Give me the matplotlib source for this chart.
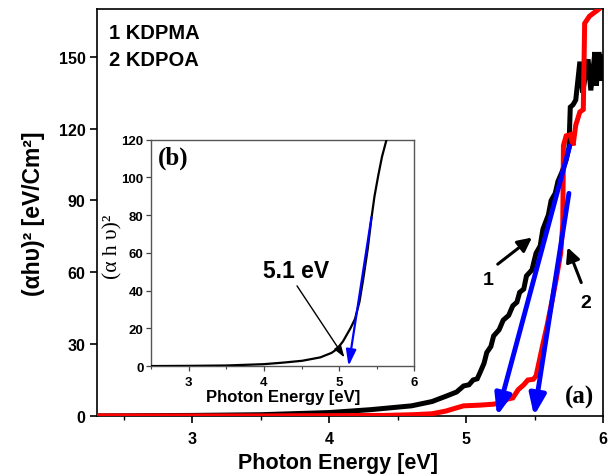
import matplotlib
matplotlib.use("Agg")
import matplotlib.pyplot as plt
from matplotlib.ticker import MultipleLocator

# ---------------- data ----------------
# curve 1 : KDPMA (black)
kdpma_x = [2.30, 3.00, 3.50, 4.00, 4.30, 4.60, 4.75, 4.86, 4.93, 4.98, 5.02, 5.05, 5.08, 5.10,
           5.13, 5.15, 5.18, 5.20, 5.24, 5.27, 5.31, 5.34, 5.37, 5.39, 5.42, 5.44, 5.48, 5.51,
           5.54, 5.56, 5.60, 5.62, 5.65, 5.67, 5.70, 5.73, 5.75, 5.76, 5.78, 5.80, 5.83, 5.85,
           5.89, 5.91, 5.94, 5.95, 5.97, 5.99, 6.00]
kdpma_y = [0.0, 0.2, 0.5, 1.4, 2.6, 4.2, 6.0, 8.4, 10.0, 12.5, 13.0, 15.0, 15.5, 18.0,
           22.0, 26.5, 29.0, 33.4, 36.0, 40.0, 42.0, 46.0, 47.5, 51.6, 53.0, 58.5, 61.0, 68.0,
           71.0, 78.0, 84.0, 90.0, 93.0, 98.0, 102.0, 107.0, 112.0, 129.0, 130.0, 132.0, 148.0, 135.0,
           149.0, 136.0, 152.0, 138.0, 152.0, 140.0, 150.0]

# curve 2 : KDPOA (red)
kdpoa_x = [2.30, 3.50, 4.00, 4.40, 4.61, 4.75, 4.85, 4.92, 4.98, 5.10, 5.20, 5.26, 5.30, 5.34,
           5.38, 5.42, 5.45, 5.49, 5.51, 5.53, 5.56, 5.59, 5.63, 5.66, 5.69, 5.705, 5.71, 5.73,
           5.76, 5.78, 5.80, 5.83, 5.855, 5.865, 5.90, 5.97, 6.00]
kdpoa_y = [0.0, 0.0, 0.1, 0.2, 0.5, 0.9, 2.0, 3.2, 4.2, 4.5, 4.9, 5.5, 7.0, 7.5,
           11.0, 13.0, 15.0, 15.3, 16.7, 22.0, 30.0, 37.6, 49.0, 58.0, 68.0, 80.0, 113.0, 117.0,
           117.5, 113.0, 121.5, 127.0, 128.0, 164.0, 167.0, 170.0, 172.0]

# tangent lines (blue arrows) of the main plot: (x_start, y_start, x_end, y_end)
tangent1 = [5.756, 112.8, 5.225, 0.0]
tangent2 = [5.750, 93.0, 5.495, 0.0]

# inset (b) curve
inset_x = [2.50, 3.00, 3.50, 4.00, 4.25, 4.51, 4.75, 4.90, 4.97, 5.05, 5.10, 5.15, 5.21,
           5.27, 5.32, 5.38, 5.43, 5.47, 5.52, 5.57, 5.63]
inset_y = [0.0, 0.1, 0.3, 1.0, 1.8, 2.8, 4.6, 7.0, 9.0, 13.0, 16.5, 20.0, 24.9,
           34.0, 46.0, 62.0, 78.5, 90.0, 101.0, 111.0, 120.0]
inset_tangent = [5.43, 79.0, 5.125, 0.0]

main_xticks = [3, 4, 5, 6]
main_yticks = [0, 30, 60, 90, 120, 150]
inset_xticks = [3, 4, 5, 6]
inset_yticks = [0, 20, 40, 60, 80, 100, 120]

SANS = "Liberation Sans"
SERIF = "Liberation Serif"

# ---------------- figure ----------------
fig = plt.figure(figsize=(6.08, 4.77), dpi=100)
fig.patch.set_facecolor("white")
ax = fig.add_axes([0.159, 0.126, 0.833, 0.853])

ax.plot(kdpma_x, kdpma_y, color="black", lw=3.6, solid_joinstyle="miter", zorder=3)
ax.plot(kdpoa_x, kdpoa_y, color="#ff0000", lw=3.6, solid_joinstyle="miter", zorder=4)

for t in (tangent1, tangent2):
    ax.annotate("", xy=(t[2], t[3]), xytext=(t[0], t[1]),
                arrowprops=dict(arrowstyle="-|>,head_length=0.9,head_width=0.35",
                                color="#0000ff", lw=3.5, shrinkA=0, shrinkB=0,
                                mutation_scale=14), zorder=6)

# labels 1 and 2 with arrows
ax.annotate("", xy=(5.48, 74.5), xytext=(5.23, 63.4),
            arrowprops=dict(arrowstyle="-|>,head_length=0.6,head_width=0.3",
                            color="black", lw=2.2, shrinkA=0, shrinkB=0,
                            mutation_scale=14), zorder=7)
ax.annotate("", xy=(5.74, 70.4), xytext=(5.84, 55.7),
            arrowprops=dict(arrowstyle="-|>,head_length=0.6,head_width=0.3",
                            color="black", lw=2.2, shrinkA=0, shrinkB=0,
                            mutation_scale=14), zorder=7)
ax.text(5.16, 57.0, "1", fontsize=14, fontweight="bold", family=SANS,
        ha="center", va="center")
ax.text(5.87, 47.4, "2", fontsize=14, fontweight="bold", family=SANS,
        ha="center", va="center")

ax.set_xlim(2.3, 6.0)
ax.set_ylim(0, 170)
ax.set_xticks(main_xticks)
ax.set_yticks(main_yticks)
ax.xaxis.set_minor_locator(MultipleLocator(0.5))
ax.tick_params(axis="both", which="major", direction="out", length=5, width=1.2,
               labelsize=11.5, pad=3)
ax.tick_params(axis="x", which="minor", direction="out", length=3, width=1.0)
ax.tick_params(axis="x", which="major", pad=6)
for lab in ax.get_xticklabels() + ax.get_yticklabels():
    lab.set_fontweight("bold")
    lab.set_family(SANS)
for s in ax.spines.values():
    s.set_linewidth(1.2)

ax.set_xlabel("Photon Energy [eV]", fontsize=15.5, fontweight="bold", family=SANS,
              va="center")
ax.xaxis.set_label_coords(0.477, -0.114)
ax.set_ylabel("(αhυ)² [eV/Cm²]", fontsize=16.5, fontweight="bold",
              family=SANS, va="center")
ax.yaxis.set_label_coords(-0.125, 0.5)

ax.text(0.025, 0.943, "1 KDPMA", transform=ax.transAxes, fontsize=14.5,
        fontweight="bold", family=SANS, ha="left", va="center")
ax.text(0.025, 0.877, "2 KDPOA", transform=ax.transAxes, fontsize=14.5,
        fontweight="bold", family=SANS, ha="left", va="center")
ax.text(0.953, 0.048, "(a)", transform=ax.transAxes, fontsize=18,
        fontweight="bold", family=SERIF, ha="center", va="center")

# ---------------- inset ----------------
ins = fig.add_axes([0.2485, 0.2305, 0.433, 0.4745])
ins.plot(inset_x, inset_y, color="black", lw=1.6, zorder=3)
ins.annotate("", xy=(inset_tangent[2], inset_tangent[3]),
             xytext=(inset_tangent[0], inset_tangent[1]),
             arrowprops=dict(arrowstyle="-|>,head_length=0.8,head_width=0.25",
                             color="#0000ff", lw=1.6, shrinkA=0, shrinkB=0,
                             mutation_scale=12), zorder=4)
ins.annotate("", xy=(5.07, 4.6), xytext=(4.44, 42.5),
             arrowprops=dict(arrowstyle="-|>,head_length=0.6,head_width=0.2",
                             color="black", lw=1.0, shrinkA=0, shrinkB=0,
                             mutation_scale=12), zorder=5)
ins.text(4.43, 50.4, "5.1 eV", fontsize=16.5, fontweight="bold", family=SANS,
         ha="center", va="center")
ins.text(0.084, 0.923, "(b)", transform=ins.transAxes, fontsize=18,
         fontweight="bold", family=SERIF, ha="center", va="center")

ins.set_xlim(2.5, 6.0)
ins.set_ylim(0, 120)
ins.set_xticks(inset_xticks)
ins.set_yticks(inset_yticks)
ins.xaxis.set_minor_locator(MultipleLocator(0.5))
ins.tick_params(axis="both", which="major", direction="out", length=3.5, width=0.9,
                labelsize=9.5, pad=2, color="#444444")
ins.tick_params(axis="x", which="minor", direction="out", length=2, width=0.8,
                color="#444444")
ins.tick_params(axis="x", which="major", pad=4)
for lab in ins.get_xticklabels() + ins.get_yticklabels():
    lab.set_fontweight("bold")
    lab.set_family(SANS)
for s in ins.spines.values():
    s.set_linewidth(1.0)
    s.set_color("#555555")
ins.set_xlabel("Photon Energy [eV]", fontsize=12, fontweight="bold", family=SANS,
               va="center")
ins.xaxis.set_label_coords(0.503, -0.133)
ins.set_ylabel("(α h υ)²", fontsize=15.5, family=SERIF, va="center")
ins.yaxis.set_label_coords(-0.144, 0.53)

fig.savefig("out.png", dpi=100, facecolor="white")
